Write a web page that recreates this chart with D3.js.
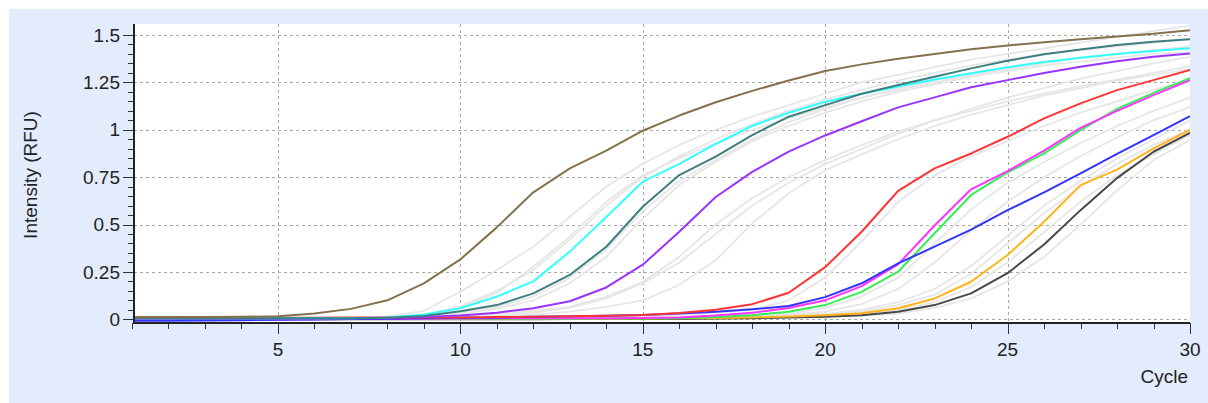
<!DOCTYPE html>
<html>
<head>
<meta charset="utf-8">
<script src="https://cdn.jsdelivr.net/npm/d3@7"></script>
<style>
  html, body { margin: 0; padding: 0; background: #ffffff; }
  svg { display: block; }
  text { font-family: "Liberation Sans", Arial, sans-serif; fill: #222; }
</style>
</head>
<body>
<svg id="chart" width="1208" height="403"></svg>
<script>
// ---------------- data ----------------
const cycles = d3.range(1, 31);
const xTickValues = [5, 10, 15, 20, 25, 30];
const yTickValues = [0, 0.25, 0.5, 0.75, 1, 1.25, 1.5];
const yTickLabels = ["0", "0.25", "0.5", "0.75", "1", "1.25", "1.5"];
const xTitle = "Cycle";
const yTitle = "Intensity (RFU)";

const brown   = [0.012,0.012,0.012,0.013,0.016,0.030,0.055,0.100,0.190,0.316,0.485,0.670,0.796,0.890,0.995,1.075,1.145,1.205,1.260,1.310,1.345,1.375,1.400,1.425,1.445,1.462,1.478,1.492,1.506,1.525];
const cyan    = [0.005,0.005,0.005,0.005,0.005,0.005,0.006,0.010,0.025,0.058,0.120,0.200,0.357,0.540,0.726,0.820,0.925,1.020,1.090,1.148,1.190,1.228,1.265,1.298,1.330,1.357,1.380,1.400,1.415,1.430];
const teal    = [0.005,0.005,0.005,0.005,0.005,0.005,0.005,0.008,0.018,0.042,0.075,0.137,0.234,0.383,0.594,0.761,0.858,0.972,1.069,1.130,1.190,1.236,1.280,1.324,1.364,1.398,1.424,1.447,1.464,1.477];
const purple  = [0.003,0.003,0.003,0.003,0.003,0.003,0.005,0.008,0.012,0.020,0.035,0.058,0.095,0.168,0.288,0.462,0.645,0.778,0.885,0.970,1.045,1.118,1.171,1.224,1.262,1.300,1.332,1.362,1.385,1.403];
const red     = [0.008,0.008,0.008,0.008,0.008,0.008,0.009,0.009,0.010,0.010,0.012,0.014,0.016,0.019,0.023,0.033,0.050,0.080,0.140,0.275,0.462,0.678,0.796,0.875,0.963,1.060,1.139,1.209,1.262,1.315];
const magenta = [0.000,0.000,0.000,0.000,0.000,0.001,0.001,0.002,0.003,0.004,0.005,0.005,0.005,0.006,0.007,0.010,0.020,0.035,0.060,0.100,0.175,0.290,0.495,0.686,0.782,0.890,1.010,1.100,1.183,1.262];
const green   = [0.003,0.003,0.003,0.003,0.003,0.003,0.003,0.003,0.003,0.003,0.003,0.003,0.003,0.004,0.004,0.006,0.012,0.022,0.040,0.075,0.145,0.251,0.454,0.656,0.775,0.875,0.998,1.110,1.195,1.272];
const blue    = [-0.008,-0.007,-0.006,-0.005,-0.003,-0.001,0.001,0.003,0.005,0.008,0.010,0.013,0.016,0.019,0.023,0.030,0.040,0.053,0.070,0.117,0.190,0.295,0.383,0.473,0.576,0.670,0.770,0.873,0.972,1.072];
const orange  = [0.003,0.003,0.003,0.003,0.003,0.003,0.003,0.003,0.003,0.003,0.003,0.003,0.003,0.003,0.004,0.005,0.007,0.010,0.015,0.022,0.032,0.058,0.110,0.198,0.339,0.515,0.708,0.790,0.902,1.000];
const black   = [0.000,0.000,0.000,0.000,0.000,0.000,0.000,0.000,0.000,0.000,0.000,0.000,0.001,0.001,0.001,0.002,0.004,0.006,0.009,0.013,0.022,0.040,0.075,0.137,0.243,0.395,0.576,0.745,0.884,0.984];

const gray01 = [0.005,0.005,0.005,0.005,0.005,0.006,0.008,0.015,0.045,0.146,0.260,0.383,0.541,0.700,0.820,0.920,1.000,1.070,1.130,1.190,1.250,1.290,1.330,1.370,1.400,1.430,1.460,1.490,1.520,1.550];
const gray02 = [0.005,0.005,0.005,0.005,0.005,0.005,0.006,0.010,0.025,0.060,0.140,0.277,0.436,0.620,0.760,0.850,0.930,1.000,1.060,1.120,1.170,1.210,1.250,1.290,1.320,1.350,1.380,1.400,1.420,1.440];
const gray03 = [0.004,0.004,0.004,0.004,0.004,0.004,0.005,0.008,0.020,0.070,0.150,0.260,0.420,0.600,0.750,0.860,0.950,1.030,1.100,1.160,1.210,1.260,1.300,1.340,1.370,1.400,1.420,1.440,1.460,1.480];
const gray04 = [0.004,0.004,0.004,0.004,0.004,0.004,0.004,0.006,0.015,0.035,0.065,0.120,0.220,0.370,0.570,0.730,0.840,0.950,1.040,1.110,1.170,1.220,1.260,1.300,1.330,1.360,1.380,1.400,1.420,1.430];
const gray05 = [0.003,0.003,0.003,0.003,0.003,0.003,0.004,0.006,0.012,0.030,0.055,0.100,0.190,0.330,0.530,0.710,0.830,0.940,1.020,1.090,1.150,1.200,1.240,1.280,1.310,1.340,1.360,1.380,1.400,1.410];
const gray06 = [0.003,0.003,0.003,0.003,0.003,0.003,0.004,0.005,0.007,0.010,0.015,0.025,0.040,0.065,0.100,0.181,0.313,0.506,0.665,0.787,0.870,0.950,1.020,1.080,1.130,1.180,1.220,1.260,1.290,1.320];
const gray07 = [0.003,0.003,0.003,0.003,0.003,0.003,0.004,0.006,0.010,0.018,0.030,0.045,0.065,0.120,0.198,0.330,0.500,0.640,0.750,0.840,0.920,0.990,1.050,1.100,1.150,1.190,1.230,1.265,1.300,1.335];
const gray08 = [0.004,0.004,0.004,0.004,0.004,0.004,0.004,0.004,0.005,0.006,0.007,0.008,0.010,0.013,0.018,0.025,0.035,0.050,0.100,0.220,0.410,0.620,0.760,0.860,0.940,1.020,1.090,1.150,1.210,1.260];
const gray09 = [0.002,0.002,0.002,0.002,0.002,0.002,0.002,0.003,0.003,0.004,0.005,0.006,0.007,0.009,0.011,0.014,0.018,0.024,0.030,0.060,0.120,0.220,0.400,0.580,0.720,0.830,0.930,1.020,1.100,1.170];
const gray10 = [0.002,0.002,0.002,0.002,0.002,0.002,0.002,0.002,0.003,0.003,0.004,0.005,0.006,0.007,0.009,0.011,0.014,0.018,0.025,0.040,0.080,0.160,0.300,0.470,0.620,0.750,0.860,0.960,1.050,1.120];
const gray11 = [0.002,0.002,0.002,0.002,0.002,0.002,0.002,0.002,0.002,0.003,0.003,0.004,0.005,0.006,0.007,0.009,0.012,0.016,0.022,0.030,0.050,0.090,0.160,0.280,0.440,0.600,0.730,0.850,0.950,1.050];
const gray12 = [0.001,0.001,0.001,0.001,0.001,0.001,0.001,0.002,0.002,0.002,0.003,0.003,0.004,0.005,0.006,0.008,0.010,0.013,0.018,0.025,0.040,0.075,0.130,0.240,0.400,0.560,0.700,0.820,0.920,1.000];
const gray13 = [0.001,0.001,0.001,0.001,0.001,0.001,0.001,0.001,0.002,0.002,0.002,0.003,0.003,0.004,0.005,0.006,0.008,0.010,0.014,0.020,0.030,0.050,0.090,0.170,0.300,0.460,0.620,0.760,0.870,0.972];
const gray14 = [0.000,0.000,0.000,0.000,0.000,0.000,0.001,0.001,0.001,0.001,0.002,0.002,0.002,0.003,0.003,0.004,0.005,0.007,0.010,0.014,0.020,0.030,0.060,0.110,0.200,0.330,0.500,0.680,0.840,0.946];
const gray15 = [0.003,0.003,0.003,0.003,0.003,0.003,0.004,0.005,0.008,0.012,0.020,0.035,0.060,0.110,0.190,0.300,0.450,0.600,0.720,0.820,0.900,0.980,1.050,1.110,1.170,1.220,1.270,1.310,1.350,1.385];

const grayNames = [gray01,gray02,gray03,gray04,gray05,gray06,gray07,gray08,gray09,gray10,gray11,gray12,gray13,gray14,gray15];
const colorSeries = [
  {name:"black",   values: black,   color:"#474747"},
  {name:"orange",  values: orange,  color:"#ffb31a"},
  {name:"green",   values: green,   color:"#33ee55"},
  {name:"magenta", values: magenta, color:"#ff33ff"},
  {name:"blue",    values: blue,    color:"#3333ff"},
  {name:"red",     values: red,     color:"#ff3333"},
  {name:"purple",  values: purple,  color:"#9933ff"},
  {name:"cyan",    values: cyan,    color:"#33ffff"},
  {name:"teal",    values: teal,    color:"#3d7f80"},
  {name:"brown",   values: brown,   color:"#85714c"}
];

// ---------------- layout ----------------
const svg = d3.select("#chart");
const W = 1208, H = 403;
const plot = {left: 134, right: 1190, top: 24, bottom: 323};

const x = d3.scaleLinear().domain([1, 30]).range([132, 1190]);
const y = d3.scaleLinear().domain([0, 1.5]).range([319.3, 35]);

// panel background
svg.append("rect").attr("x", 9).attr("y", 9).attr("width", W - 9).attr("height", H - 9).attr("fill", "#e3ecfc");
// plot area
svg.append("rect").attr("x", plot.left).attr("y", plot.top)
  .attr("width", plot.right - plot.left).attr("height", plot.bottom - plot.top).attr("fill", "#ffffff");

svg.append("defs").append("clipPath").attr("id", "clip")
  .append("rect").attr("x", plot.left).attr("y", plot.top)
  .attr("width", plot.right - plot.left).attr("height", plot.bottom - plot.top - 1);

// grid
const grid = svg.append("g").attr("stroke", "#a8a8a8").attr("stroke-width", 1).attr("stroke-dasharray", "3,3");
grid.selectAll("line.h").data(yTickValues).join("line")
  .attr("x1", plot.left).attr("x2", plot.right)
  .attr("y1", d => Math.round(y(d)) + 0.5).attr("y2", d => Math.round(y(d)) + 0.5);
grid.selectAll("line.v").data(xTickValues.filter(v => v < 30)).join("line")
  .attr("y1", plot.top).attr("y2", plot.bottom)
  .attr("x1", d => Math.round(x(d)) + 0.5).attr("x2", d => Math.round(x(d)) + 0.5);

// curves
const line = d3.line().x((d, i) => x(cycles[i])).y(d => y(d));
const curves = svg.append("g").attr("clip-path", "url(#clip)").attr("fill", "none").attr("stroke-linejoin", "round");
curves.selectAll("path.gray").data(grayNames).join("path")
  .attr("class", "gray").attr("d", line).attr("stroke", "#e6e6e6").attr("stroke-width", 1.8);
curves.selectAll("path.col").data(colorSeries).join("path")
  .attr("class", "col").attr("d", d => line(d.values)).attr("stroke", d => d.color).attr("stroke-width", 2);

// axes
const axisColor = "#333";
const yMinor = d3.range(0, 1.5001, 0.05);
const gy = svg.append("g");
gy.selectAll("line.minor").data(yMinor).join("line")
  .attr("x1", plot.left - 6).attr("x2", plot.left)
  .attr("y1", d => Math.round(y(d)) + 0.5).attr("y2", d => Math.round(y(d)) + 0.5)
  .attr("stroke", axisColor).attr("stroke-width", 1);
gy.selectAll("line.major").data(yTickValues).join("line")
  .attr("x1", plot.left - 11).attr("x2", plot.left)
  .attr("y1", d => Math.round(y(d)) + 0.5).attr("y2", d => Math.round(y(d)) + 0.5)
  .attr("stroke", axisColor).attr("stroke-width", 1);
gy.selectAll("text").data(yTickValues).join("text")
  .attr("x", plot.left - 14).attr("y", d => y(d)).attr("dy", "0.35em")
  .attr("text-anchor", "end").attr("font-size", 19)
  .text((d, i) => yTickLabels[i]);

const gx = svg.append("g");
gx.selectAll("line.minor").data(cycles).join("line")
  .attr("y1", plot.bottom).attr("y2", plot.bottom + 6)
  .attr("x1", d => Math.round(x(d)) + 0.5).attr("x2", d => Math.round(x(d)) + 0.5)
  .attr("stroke", axisColor).attr("stroke-width", 1);
gx.selectAll("line.major").data(xTickValues).join("line")
  .attr("y1", plot.bottom).attr("y2", plot.bottom + 11)
  .attr("x1", d => Math.round(x(d)) + 0.5).attr("x2", d => Math.round(x(d)) + 0.5)
  .attr("stroke", axisColor).attr("stroke-width", 1);
gx.selectAll("text").data(xTickValues).join("text")
  .attr("x", d => x(d)).attr("y", 356)
  .attr("text-anchor", "middle").attr("font-size", 19)
  .text(d => d);

// axis lines
svg.append("line").attr("x1", plot.left).attr("x2", plot.left).attr("y1", plot.top).attr("y2", plot.bottom + 1)
  .attr("stroke", "#222").attr("stroke-width", 2);
svg.append("line").attr("x1", plot.left - 1).attr("x2", plot.right).attr("y1", plot.bottom).attr("y2", plot.bottom)
  .attr("stroke", "#222").attr("stroke-width", 2);

// titles
svg.append("text").attr("x", 1188).attr("y", 383).attr("text-anchor", "end").attr("font-size", 19).text(xTitle);
svg.append("text").attr("transform", "translate(37,175) rotate(-90)").attr("text-anchor", "middle")
  .attr("font-size", 19).text(yTitle);
</script>
</body>
</html>
